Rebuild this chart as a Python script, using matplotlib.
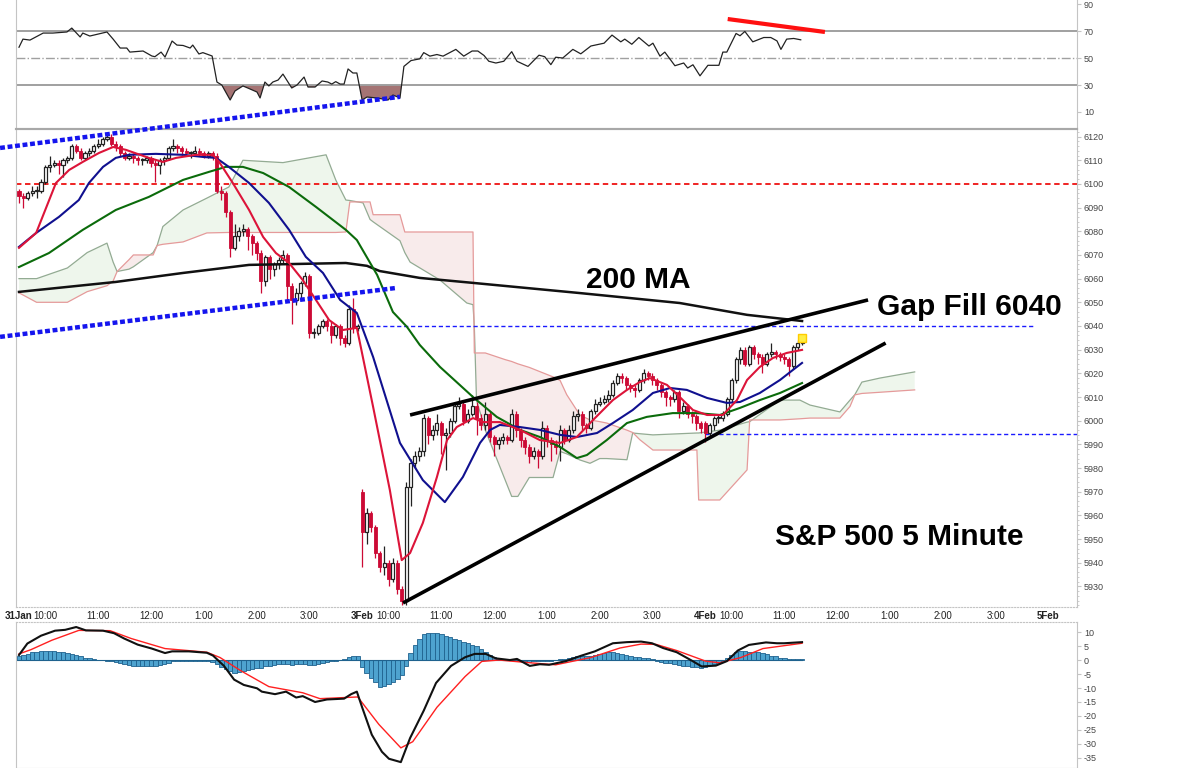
import matplotlib.pyplot as plt
import numpy as np

plt.rcParams['font.family'] = ['Liberation Sans', 'DejaVu Sans']
plt.rcParams['axes.unicode_minus'] = False

# ---------------- 5-minute candles, one list per session ----------------
day_open = [6097, 5970, 5999]

jan31_close = [6095, 6094, 6096, 6097, 6097, 6101, 6107, 6108, 6109, 6108,
               6110, 6111, 6116, 6114, 6111, 6113, 6114, 6116, 6117, 6119,
               6120, 6117, 6116, 6113, 6111, 6112, 6111, 6110, 6110, 6111,
               6109, 6108, 6110, 6111, 6115, 6116, 6115, 6114, 6113, 6113,
               6114, 6113, 6112, 6113, 6112, 6097, 6096, 6088, 6073, 6078,
               6080, 6081, 6078, 6075, 6071, 6059, 6069, 6064, 6066, 6068,
               6070, 6057, 6051, 6054, 6058, 6061, 6037, 6037, 6040, 6042,
               6040, 6036, 6040, 6035, 6033, 6047, 6039, 6040]
jan31_high = [6098, 6096, 6097, 6099, 6099, 6102, 6108, 6112, 6110, 6110,
              6111, 6112, 6117, 6117, 6115, 6114, 6115, 6117, 6119, 6120,
              6121, 6121, 6118, 6117, 6114, 6113, 6113, 6112, 6111, 6112,
              6112, 6110, 6111, 6112, 6116, 6119, 6117, 6116, 6115, 6114,
              6116, 6115, 6114, 6114, 6114, 6113, 6099, 6097, 6089, 6083,
              6082, 6083, 6082, 6079, 6076, 6072, 6070, 6070, 6067, 6069,
              6072, 6071, 6058, 6056, 6059, 6063, 6062, 6039, 6041, 6043,
              6043, 6042, 6041, 6041, 6036, 6049, 6052, 6041]
jan31_low = [6092, 6090, 6093, 6095, 6094, 6096, 6100, 6105, 6107, 6104,
             6103, 6109, 6110, 6113, 6110, 6110, 6112, 6113, 6115, 6116,
             6118, 6116, 6114, 6112, 6110, 6110, 6109, 6108, 6108, 6109,
             6107, 6101, 6104, 6108, 6110, 6114, 6113, 6112, 6112, 6111,
             6112, 6112, 6111, 6111, 6110, 6096, 6093, 6086, 6069, 6072,
             6076, 6078, 6072, 6070, 6068, 6054, 6057, 6060, 6061, 6064,
             6066, 6050, 6041, 6049, 6052, 6057, 6035, 6035, 6036, 6039,
             6038, 6033, 6035, 6032, 6031, 6032, 6037, 6038]

feb3_close = [5953, 5961, 5955, 5944, 5938, 5940, 5933, 5940, 5929, 5924,
              5972, 5982, 5985, 5987, 6001, 5994, 5996, 5999, 5994, 5995,
              6000, 6006, 6007, 6000, 6003, 6006, 6001, 5998, 6003, 5993,
              5990, 5992, 5993, 5992, 6003, 5996, 5992, 5989, 5985, 5987,
              5985, 5997, 5992, 5990, 5989, 5996, 5992, 5996, 6002, 6003,
              5998, 5997, 6004, 6007, 6008, 6009, 6011, 6016, 6019, 6018,
              6015, 6014, 6013, 6017, 6020, 6019, 6017, 6015, 6012, 6010,
              6009, 6012, 6004, 6006, 6003, 6002, 5999, 5997]
feb3_high = [5971, 5963, 5962, 5956, 5945, 5947, 5941, 5942, 5941, 5930,
             5974, 5984, 5987, 5989, 6003, 6002, 5998, 6003, 6000, 5997,
             6001, 6008, 6010, 6008, 6005, 6011, 6008, 6003, 6008, 6004,
             5994, 5993, 5995, 5994, 6005, 6004, 5997, 5993, 5990, 5989,
             5988, 6000, 5998, 5993, 5992, 5998, 5997, 5998, 6004, 6005,
             6004, 5999, 6005, 6009, 6010, 6011, 6013, 6017, 6020, 6020,
             6019, 6016, 6015, 6018, 6022, 6021, 6020, 6018, 6016, 6013,
             6011, 6013, 6013, 6008, 6007, 6004, 6003, 6000]
feb3_low = [5938, 5948, 5953, 5942, 5936, 5935, 5930, 5932, 5927, 5922,
            5922, 5964, 5980, 5983, 5985, 5990, 5992, 5994, 5986, 5979,
            5993, 5999, 6005, 5998, 5999, 6002, 5994, 5996, 5996, 5991,
            5985, 5988, 5990, 5990, 5991, 5993, 5989, 5986, 5982, 5984,
            5980, 5984, 5989, 5983, 5986, 5983, 5990, 5991, 5995, 6000,
            5996, 5995, 5996, 6003, 6006, 6007, 6008, 6010, 6015, 6016,
            6013, 6012, 6010, 6012, 6016, 6017, 6015, 6013, 6010, 6006,
            6006, 6008, 6001, 6003, 6001, 5999, 5996, 5995]

feb4_close = [5995, 5998, 6001, 6001, 6003, 6009, 6017, 6026, 6030, 6024, 6031, 6028,
              6027, 6024, 6028, 6029, 6028, 6027, 6026, 6023, 6031, 6033, 6034]
feb4_high = [6000, 5999, 6002, 6003, 6004, 6010, 6018, 6027, 6031, 6031, 6032, 6032,
             6029, 6028, 6029, 6033, 6030, 6029, 6028, 6027, 6032, 6034, 6035]
feb4_low = [5991, 5993, 5996, 5999, 6000, 6002, 6008, 6016, 6024, 6023, 6023, 6026,
            6024, 6020, 6023, 6027, 6026, 6025, 6024, 6019, 6022, 6030, 6032]

# ---------------- moving averages (bar index, price) ----------------
ema_fast_x = [0, 3.9, 8.4, 11.4, 14.5, 18.2, 21.4, 24.3, 29.5, 32.7, 35.7, 40.2, 44.1, 45.5,
              48.6, 52.3, 55.5, 58.4, 61.4, 64.5, 67.5, 70.5, 73.6, 76.8, 80.5, 84.3, 87.0,
              88.9, 91.8, 95.0, 97.3, 99.5, 103.2, 105.5, 109.3, 113.9, 118.4, 123.0, 126.8,
              130.5, 135.0, 138.2, 141.1, 143.4, 147.3, 150.2, 153.2, 156.4, 160.0, 163.2,
              165.5, 168.4, 171.4, 174.5, 178.0]
ema_fast = [6073.0, 6079.3, 6100.4, 6105.9, 6109.3, 6113.1, 6115.6, 6114.4, 6111.0, 6109.3,
            6111.0, 6112.3, 6112.3, 6109.3, 6100.4, 6089.0, 6077.6, 6070.8, 6066.6, 6059.4,
            6051.0, 6042.5, 6038.3, 6039.2, 6005.8, 5970.7, 5941.1, 5944.1, 5956.8, 5976.2,
            5991.8, 5997.3, 6001.1, 5999.4, 5999.4, 5996.1, 5991.8, 5990.6, 5993.1, 6000.3,
            6008.7, 6013.0, 6016.3, 6018.0, 6015.1, 6010.0, 6004.5, 6002.4, 6002.4, 6008.7,
            6017.2, 6022.7, 6026.5, 6028.6, 6029.9]

ema_mid_x = [0, 3.9, 9.1, 13.6, 15.9, 19.1, 22.0, 25.0, 31.1, 37.3, 41.8, 44.8, 47.7, 52.3,
             56.8, 61.4, 65.2, 69.1, 73.0, 76.8, 80.5, 86.6, 91.8, 96.8, 100.9, 104.8, 107.1,
             109.3, 113.9, 118.4, 123.0, 126.8, 131.4, 135.0, 139.5, 144.1, 148.0, 151.8,
             156.4, 160.9, 163.9, 168.4, 173.0, 175.9, 178.0]
ema_mid = [6073.4, 6079.3, 6086.1, 6093.2, 6100.4, 6107.2, 6111.0, 6112.3, 6112.7, 6112.3,
           6111.4, 6111.0, 6107.2, 6100.4, 6092.0, 6080.6, 6069.2, 6062.4, 6051.0, 6045.5,
           6026.9, 5990.6, 5974.9, 5965.6, 5976.2, 5990.6, 5996.1, 5998.2, 5997.3, 5996.1,
           5994.0, 5993.1, 5994.8, 5999.0, 6004.5, 6011.7, 6013.8, 6013.0, 6009.6, 6007.5,
           6007.9, 6011.7, 6017.2, 6021.4, 6024.4]

ma_slow_x = [0, 6.8, 14.5, 22.0, 29.5, 37.3, 43.2, 47.0, 50.9, 55.5, 61.4, 67.5, 74.3, 76.8,
             81.4, 85.0, 88.2, 91.1, 95.7, 103.2, 108.6, 113.9, 118.4, 123.0, 126.8, 129.1,
             133.6, 138.2, 142.7, 148.6, 154.1, 159.3, 163.9, 168.4, 173.0, 178.0]
ma_slow = [6064.9, 6070.8, 6080.6, 6089.0, 6094.5, 6101.7, 6105.1, 6107.2, 6107.2, 6104.6,
           6098.7, 6090.3, 6080.6, 6076.3, 6061.6, 6045.9, 6039.6, 6032.0, 6022.7, 6010.0,
           6001.6, 5996.1, 5993.1, 5988.9, 5984.2, 5985.5, 5991.8, 5999.0, 6001.6, 6003.2,
           6003.2, 6002.4, 6005.4, 6008.7, 6011.7, 6015.9]

ma200_x = [0, 22.0, 37.3, 52.3, 74.3, 79.1, 82.0, 91.1, 103.2, 127.5, 150.2, 165.5, 178.0]
ma200 = [6054.4, 6058.6, 6062.4, 6065.8, 6066.6, 6065.4, 6063.2, 6060.3, 6058.2, 6053.9,
         6049.7, 6044.7, 6042.1]

# ---------------- ichimoku cloud ----------------
cloud_x = [0, 4, 11, 15.5, 20, 21.4, 22.3, 25, 26, 30.5, 31.4, 32.7, 37.3, 42.7, 47.7, 50.9,
           60, 69.8, 72, 74.3, 75.2, 78.2, 79.8, 80.5, 86.6, 87.7, 88.9, 95.7, 101.8, 103.2,
           103.5, 104, 106, 110.5, 112, 113.4, 116, 121.4, 123, 124.5, 127.5, 129.8, 132,
           133.6, 138.2, 139.5, 141.1, 144.1, 154.1, 154.5, 159.3, 165.5, 166.1, 173, 177.5,
           179.8, 186.6, 188.9, 190, 191.6, 195.7, 203.6]
span_a = [6060, 6060, 6064.5, 6071, 6075, 6067, 6063, 6064, 6065, 6071, 6074, 6082, 6089,
          6094, 6098.7, 6110, 6109, 6112.3, 6101.7, 6093.2, 6093, 6092, 6085, 6084, 6076,
          6071, 6067, 6059.4, 6049.7, 6049, 6040, 6008.7, 5996, 5975, 5968, 5968, 5976,
          5976, 5987, 5986, 5983.4, 5982, 5984, 5984, 5983.5, 5994.8, 5994.5, 5994, 5994.8,
          5994.8, 5996, 5999.4, 5999.6, 6008.7, 6008.7, 6006.6, 6003.7, 6008.7, 6011,
          6016.3, 6018, 6020.6]
span_b = [6054, 6050, 6050, 6054.5, 6057, 6059, 6063, 6068, 6070, 6070, 6074, 6074.5, 6075.5,
          6079.3, 6079.5, 6079.5, 6079.5, 6079.5, 6079.5, 6079.7, 6092.4, 6092.4, 6092.4,
          6087, 6087, 6079.7, 6079.7, 6079.7, 6079.7, 6079.7, 6028.6, 6028.6, 6028.6,
          6025.8, 6025, 6024, 6022.5, 6018.5, 6017, 6011, 6002.4, 6000.3, 5999.6, 5999,
          5996, 5995, 5992, 5987.6, 5987.6, 5966.5, 5966.5, 5979.2, 6000.3, 6000.3, 6000.8,
          6001.1, 6001.1, 6006, 6010.9, 6011.5, 6012, 6013]

# ---------------- RSI ----------------
rsi_x = [0, 0.9, 2.5, 5.5, 7.7, 10.9, 12.0, 13.9, 14.5, 16.1, 20.0, 21.4, 23.0, 24.5, 25.2,
         28.2, 30.2, 30.9, 32.3, 33.2, 34.8, 35.9, 37.3, 38.9, 39.5, 40.9, 41.8, 43.9, 45.0,
         46.1, 48.0, 49.1, 50.9, 52.0, 54.1, 54.8, 55.9, 56.8, 57.7, 58.9, 60.0, 62.0, 63.2,
         64.8, 65.7, 67.3, 68.9, 70.2, 71.1, 72.0, 73.0, 73.9, 74.8, 75.9, 76.8, 78.0, 79.1,
         81.4, 83.9, 85.0, 86.6, 87.5, 89.1, 91.1, 92.0, 93.4, 95.0, 96.4, 99.3, 101.1,
         103.0, 104.3, 105.7, 106.8, 108.4, 110.2, 112.0, 113.2, 115.7, 118.2, 119.5, 120.9,
         122.0, 123.6, 125.9, 127.7, 130.0, 133.0, 134.8, 136.8, 137.7, 139.3, 140.9, 143.2,
         144.1, 145.7, 146.8, 149.1, 151.1, 152.0, 153.2, 154.8, 156.6, 159.1, 160.0, 160.9,
         163.0, 163.9, 165.0, 166.8, 169.3, 170.9, 172.3, 173.2, 174.5, 176.1, 177.7]
rsi = [58, 64, 63.3, 68.5, 68.5, 69.3, 72.2, 65.6, 68.5, 66.3, 69.3, 64, 57.4, 57.4, 54.4,
       55.2, 51.5, 51, 54.4, 50.7, 62.6, 59.6, 59.3, 57.4, 59.6, 53, 54, 51.5, 32.2, 30,
       18.9, 25.6, 29.3, 27.8, 24.8, 20.4, 32.2, 29.3, 32.2, 33.7, 38.1, 27.8, 30, 35.9,
       28.5, 28.5, 33, 32.2, 30.7, 32.5, 30.7, 30.7, 41.9, 38.9, 38.9, 18.9, 21.1, 20.4,
       18.9, 22.6, 20.4, 43.8, 48.1, 49.4, 54, 51.4, 52.6, 51.4, 56.4, 51.4, 55.2, 55.2,
       51.9, 47.6, 46.3, 47.6, 54.7, 47.6, 43.8, 52.1, 51, 45.1, 50.6, 50, 56.4, 53.1, 58.9,
       61, 67, 62, 64, 60.2, 65.2, 58.9, 61, 51.4, 54.4, 44.3, 46.3, 42.6, 45, 36.8, 44.6,
       44.6, 54.4, 54.4, 68.2, 66.5, 69.7, 62, 65.2, 65.2, 62.7, 56.4, 64, 64.5, 63.5]

# ---------------- MACD ----------------
macd_x = [0, 1.9, 5.0, 8.2, 10.5, 13.0, 15.2, 19.1, 21.6, 23.9, 27.0, 30.2, 33.2, 34.8, 38.6,
          42.7, 44.1, 46.6, 48.9, 51.1, 54.1, 55.2, 58.2, 60.7, 63.0, 64.5, 67.3, 70.0, 73.9,
          75.5, 76.8, 78.0, 80.2, 82.5, 84.1, 86.8, 88.9, 92.0, 94.8, 98.2, 101.4, 103.6,
          106.1, 108.4, 111.6, 113.2, 116.1, 118.4, 120.5, 124.3, 127.7, 130.9, 135.0, 138.2,
          141.4, 143.9, 146.4, 149.5, 152.7, 155.2, 158.4, 160.9, 163.4, 165.9, 169.8, 172.3,
          173.9, 178.0]
macd = [1.8, 5.9, 8.7, 10.5, 10.8, 11.8, 10.6, 10.5, 9.6, 7.7, 5.5, 4.1, 2.5, 3.1, 3.1, 2.6,
        1.6, -2.1, -7, -8.9, -10.1, -11.3, -12.2, -11.3, -13.4, -12.9, -15, -14.1, -13.8,
        -12.2, -11.3, -16.9, -26.7, -32.8, -35.3, -36.5, -27.9, -18.1, -8.2, -2.1, 1, 2.2,
        2.2, 0.6, 0, 0.4, -2.1, -1.5, -1.7, -0.4, 1.5, 3.1, 6, 6.4, 6.6, 6, 4.3, 2.8, 0,
        -2.3, -2, -0.4, 3.4, 5.4, 6.3, 6, 6, 6.4]
signal_x = [0, 2.7, 7.5, 13.6, 20.7, 25.5, 33.2, 42.7, 45.7, 50.5, 56.8, 64.5, 68.4, 77.0,
            81.8, 86.8, 89.5, 95.0, 101.4, 105.2, 109.1, 115.5, 122.0, 130.0, 136.6, 141.4,
            144.8, 149.5, 156.1, 159.3, 164.1, 169.1, 178.0]
signal = [2.2, 3.7, 7.1, 10.6, 10.5, 7.7, 4.1, 2.8, 0.9, -3.9, -9.5, -11.7, -13.8, -13.2,
          -23, -31.4, -29.2, -16.9, -5.9, -0.5, 0, -0.9, -1.7, 0.9, 4.3, 5.7, 5.6, 3.4, -0.4,
          -1, 0.9, 4.1, 6]
hist_jan31 = [1.4, 1.8, 2.3, 2.7, 3.0, 3.1, 3.2, 3.2, 3.1, 2.9,
              2.7, 2.4, 2.0, 1.7, 1.3, 0.9, 0.6, 0.3, 0.1, -0.1,
              -0.2, -0.4, -0.6, -1.0, -1.5, -1.9, -2.1, -2.2, -2.3, -2.3,
              -2.2, -2.0, -1.9, -1.5, -0.9, -0.5, -0.3, -0.3, -0.3, -0.3,
              -0.4, -0.3, -0.3, -0.4, -0.6, -1.5, -2.5, -3.3, -4.0, -4.5,
              -4.3, -4.0, -3.6, -3.2, -2.9, -2.7, -2.3, -2.0, -1.6, -1.5,
              -1.4, -1.5, -1.6, -1.4, -1.3, -1.5, -1.8, -1.6, -1.4, -1.0,
              -0.8, -0.5, -0.3, -0.1, 0.2, 1.2, 1.5, 1.4]
hist_feb3 = [-2.5, -4.8, -6.5, -8.0, -9.5, -9.3, -8.5, -7.8, -6.8, -5.5,
             -2.0, 2.5, 5.5, 7.5, 9.2, 9.6, 9.6, 9.6, 9.2, 8.7,
             8.3, 7.6, 7.0, 6.6, 6.0, 5.5, 5.0, 4.0, 2.8, 1.8,
             1.0, 0.5, 0.2, 0.1, 0.2, 0.0, -0.3, -0.5, -0.6, -0.5,
             -0.5, -0.4, -0.3, -0.2, 0.0, 0.3, 0.5, 0.9, 1.2, 1.3,
             1.3, 1.4, 1.5, 1.8, 2.2, 2.5, 2.8, 2.8, 2.5, 2.1,
             1.8, 1.5, 1.2, 1.0, 0.9, 0.8, 0.3, -0.4, -0.8, -1.0,
             -1.2, -1.5, -1.7, -2.0, -2.3, -2.5, -2.6, -2.9]
hist_feb4 = [-2.5, -1.8, -1.3, -1.0, -0.5, 0.8, 1.8, 2.7, 3.1, 3.2, 3.0, 2.9,
             2.7, 2.4, 2.0, 1.6, 1.3, 0.9, 0.6, 0.5, 0.5, 0.5, 0.4]

# ---------------- axis labels ----------------
day_starts = [0, 78, 156, 234]
day_names = ['31Jan', '3Feb', '4Feb', '5Feb']
hour_names = ['10:00', '11:00', '12:00', '1:00', '2:00', '3:00']

RED = '#cc0a35'
GRID = '#c4c4c4'
TXT = '#444444'

# ---------------- build arrays ----------------
sessions = [jan31_close, feb3_close, feb4_close]
closes = np.array(sum(sessions, []), dtype=float)
highs = np.array(jan31_high + feb3_high + feb4_high, dtype=float)
lows = np.array(jan31_low + feb3_low + feb4_low, dtype=float)
opens = []
for first, day in zip(day_open, sessions):
    opens += [first] + day[:-1]
opens = np.array(opens, dtype=float)
highs = np.maximum(highs, np.maximum(opens, closes))
lows = np.minimum(lows, np.minimum(opens, closes))
bars = np.arange(len(closes))
hist = np.array(hist_jan31 + hist_feb3 + hist_feb4)

# ---------------- figure ----------------
fig = plt.figure(figsize=(12, 7.68), dpi=100)
L, W = 16 / 1200, 1061 / 1200
ax_rsi = fig.add_axes([L, 1 - 129 / 768, W, 129 / 768])
ax = fig.add_axes([L, 1 - 607 / 768, W, 478 / 768])
ax_macd = fig.add_axes([L, 0, W, 146 / 768])
ax.set_zorder(3)
ax.patch.set_alpha(0)

XLIM = (-0.68, 240.5)
for a in (ax_rsi, ax, ax_macd):
    a.set_xlim(*XLIM)
    a.yaxis.tick_right()
    a.tick_params(axis='y', labelsize=6.5, colors=GRID, labelcolor=TXT, length=3, pad=2)
    for s in ('left', 'right'):
        a.spines[s].set_color(GRID)
    a.set_xticks([])

# ---------------- main price panel ----------------
ax.set_ylim(5921.3, 6123.2)
ax.set_yticks(range(5930, 6121, 10))
ax.set_yticks(range(5922, 6123, 2), minor=True)
ax.tick_params(axis='y', which='minor', length=1.5, colors=GRID)
ax.spines['top'].set_color('#a8a8a8')
ax.spines['top'].set_linewidth(1.5)
ax.spines['bottom'].set_color(GRID)
ax.spines['bottom'].set_linestyle(':')

sa, sb = np.array(span_a), np.array(span_b)
ax.fill_between(cloud_x, sa, sb, where=sa >= sb, interpolate=True,
                color='#eef6ec', lw=0, zorder=1)
ax.fill_between(cloud_x, sa, sb, where=sa < sb, interpolate=True,
                color='#f8ebeb', lw=0, zorder=1)
ax.plot(cloud_x, span_a, color='#93ab93', lw=0.9, zorder=2)
ax.plot(cloud_x, span_b, color='#e59a9a', lw=0.9, zorder=2)

ax.axhline(6100, color='#ee1111', lw=1.3, ls=(0, (3, 2)), zorder=2)
ax.plot([76.4, 230.9], [6040, 6040], color='#1a1aff', lw=1.0, ls=(0, (3, 2)), zorder=2)
ax.plot([156, XLIM[1]], [5994.4, 5994.4], color='#1a1aff', lw=1.0, ls=(0, (3, 2)), zorder=2)

up = closes >= opens
lo_body = np.minimum(opens, closes)
h_body = np.maximum(np.abs(closes - opens), 0.35)
ax.vlines(bars[up], lows[up], highs[up], color='#222222', lw=0.9, zorder=3)
ax.vlines(bars[~up], lows[~up], highs[~up], color=RED, lw=0.9, zorder=3)
ax.bar(bars[up], h_body[up], bottom=lo_body[up], width=0.7, facecolor='white',
       edgecolor='#222222', lw=0.9, zorder=4)
ax.bar(bars[~up], h_body[~up], bottom=lo_body[~up], width=0.7, color=RED,
       edgecolor=RED, lw=0.6, zorder=4)

ax.plot(ma200_x, ma200, color='#111111', lw=1.8, zorder=5)
ax.plot(ma_slow_x, ma_slow, color='#0b6b0b', lw=1.5, zorder=5)
ax.plot(ema_mid_x, ema_mid, color='#10108f', lw=1.5, zorder=5)
ax.plot(ema_fast_x, ema_fast, color='#dc1439', lw=1.5, zorder=5)
ax.plot(bars[-1], highs[-1], marker='s', ms=6, color='#ffee44', mec='#ffcc00', zorder=6)

# trendlines and wedge
ax.plot([-4.3, 86.6], [6115.2, 6136.8], color='#1515ee', lw=3.2, ls=(0, (1.1, 0.6)),
        clip_on=False, zorder=7)
ax.plot([-4.3, 85.9], [6035.4, 6056.1], color='#1515ee', lw=3.2, ls=(0, (1.1, 0.6)),
        clip_on=False, zorder=7)
ax.plot([88.9, 193.0], [6002.4, 6051.0], color='black', lw=2.6, zorder=7, solid_capstyle='butt')
ax.plot([87.3, 197.0], [5923.0, 6032.8], color='black', lw=2.6, zorder=7, solid_capstyle='butt')

ax.text(140.7, 6059.4, '200 MA', fontsize=21.5, fontweight='bold', ha='center', va='center', zorder=8)
ax.text(216.1, 6048.0, 'Gap Fill 6040', fontsize=21.5, fontweight='bold', ha='center', va='center', zorder=8)
ax.text(200.2, 5950.9, 'S&P 500 5 Minute', fontsize=21.5, fontweight='bold', ha='center', va='center', zorder=8)

# x tick labels in the strip under the price panel
tick_pos, tick_lab = [], []
for d, name in zip(day_starts, day_names):
    tick_pos.append(d)
    tick_lab.append(name)
    if d < 234:
        for k, h in enumerate(hour_names):
            tick_pos.append(d + 6 + 12 * k)
            tick_lab.append(h)
ax.set_xticks(tick_pos)
ax.set_xticklabels(tick_lab)
ax.tick_params(axis='x', length=0, pad=3, labelsize=7, labelcolor='#222222')
for t in ax.get_xticklabels():
    if t.get_text() in day_names:
        t.set_fontweight('bold')

# ---------------- RSI panel ----------------
ax_rsi.set_ylim(-2.6, 93)
ax_rsi.set_yticks([10, 30, 50, 70, 90])
ax_rsi.spines['top'].set_visible(False)
ax_rsi.spines['bottom'].set_color('#a8a8a8')
ax_rsi.spines['bottom'].set_linewidth(1.5)
rv = np.array(rsi)
ax_rsi.axhline(70, color='#a0a0a0', lw=1.4)
ax_rsi.axhline(30, color='#a0a0a0', lw=1.4)
ax_rsi.axhline(50, color='#a0a0a0', lw=1.0, ls='-.')
ax_rsi.fill_between(rsi_x, rv, 30, where=rv < 30, interpolate=True, color='#a57474', lw=0)
ax_rsi.fill_between(rsi_x, rv, 70, where=rv > 70, interpolate=True, color='#8a8a8a', lw=0)
ax_rsi.plot(rsi_x, rv, color='#222222', lw=0.9)
ax_rsi.plot([161.1, 183.2], [78.9, 69.3], color='#ff1010', lw=3.0, solid_capstyle='butt')

# ---------------- MACD panel ----------------
ax_macd.set_ylim(-38.6, 13.6)
ax_macd.set_yticks(range(-35, 11, 5))
ax_macd.spines['top'].set_color(GRID)
ax_macd.spines['top'].set_linestyle(':')
ax_macd.spines['bottom'].set_color(GRID)
ax_macd.bar(bars, hist, width=1.0, color='#4ea3cf', edgecolor='#1f628e', lw=0.6, zorder=2)
ax_macd.axhline(0, xmin=0, xmax=(bars[-1] - XLIM[0]) / (XLIM[1] - XLIM[0]),
                color='#1f628e', lw=0.8, zorder=2)
ax_macd.plot(signal_x, signal, color='#ff2020', lw=1.0, zorder=3)
ax_macd.plot(macd_x, macd, color='#111111', lw=1.5, zorder=4)

fig.savefig('out.png', dpi=100)
